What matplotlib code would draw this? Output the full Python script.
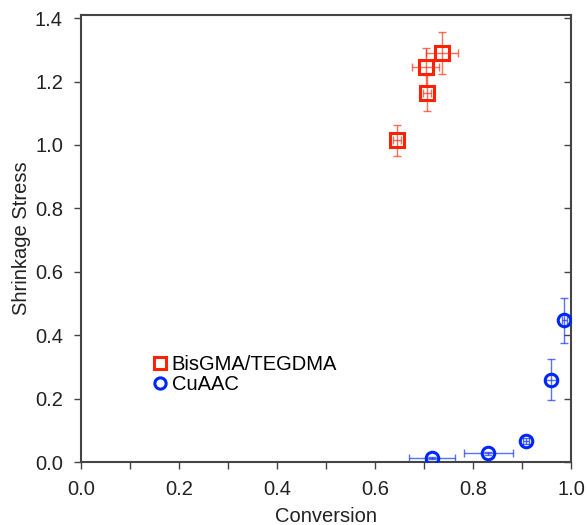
import matplotlib
matplotlib.use("Agg")
import matplotlib.pyplot as plt
import numpy as np

plt.rcParams['font.family'] = ['Liberation Sans', 'DejaVu Sans']

# BisGMA/TEGDMA data
bis_x = [0.645, 0.703, 0.706, 0.737]
bis_y = [1.015, 1.245, 1.165, 1.290]
bis_xerr = [0.008, 0.027, 0.008, 0.033]
bis_yerr = [0.049, 0.060, 0.057, 0.066]

# CuAAC data
cu_x = [0.717, 0.831, 0.907, 0.959, 0.986]
cu_y = [0.012, 0.027, 0.066, 0.259, 0.447]
cu_xerr = [0.047, 0.050, 0.006, 0.012, 0.005]
cu_yerr = [0.004, 0.005, 0.010, 0.065, 0.071]

xticks = [0.0, 0.2, 0.4, 0.6, 0.8, 1.0]
yticks = [0.0, 0.2, 0.4, 0.6, 0.8, 1.0, 1.2, 1.4]

red = '#ff2200'
blue = '#0026ff'

fig = plt.figure(figsize=(5.87, 5.25), dpi=100)
ax = fig.add_axes([0.138, 0.12, 0.835, 0.8514])

ax.errorbar(bis_x, bis_y, xerr=bis_xerr, yerr=bis_yerr, fmt='none',
            ecolor=red, elinewidth=1.0, capsize=3, capthick=1.0, alpha=0.65, zorder=2)
ax.plot(bis_x, bis_y, linestyle='none', marker='s', markersize=9.5,
        markerfacecolor='none', markeredgecolor=red, markeredgewidth=2.2,
        label='BisGMA/TEGDMA', zorder=3)

ax.errorbar(cu_x, cu_y, xerr=cu_xerr, yerr=cu_yerr, fmt='none',
            ecolor=blue, elinewidth=1.0, capsize=3, capthick=1.0, alpha=0.65, zorder=2)
ax.plot(cu_x, cu_y, linestyle='none', marker='o', markersize=9,
        markerfacecolor='none', markeredgecolor=blue, markeredgewidth=2.2,
        label='CuAAC', zorder=3)

ax.set_xlim(0, 1.0)
ax.set_ylim(0, 1.41)
ax.set_xticks(xticks)
ax.set_xticklabels([f'{v:.1f}' for v in xticks])
ax.set_xticks(np.arange(0.1, 1.0, 0.2), minor=True)
ax.set_yticks(yticks)
ax.set_yticklabels([f'{v:.1f}' for v in yticks])

spine_c = '#444444'
for s in ax.spines.values():
    s.set_color(spine_c)
    s.set_linewidth(1.5)

ax.tick_params(axis='both', which='both', direction='out', length=5, width=1.0,
               color=spine_c, labelsize=14.5, labelcolor='#222222', pad=8)
ax.tick_params(axis='x', which='minor', length=5)
ax.tick_params(axis='y', right=True, which='major')
# right ticks inward
for t in ax.yaxis.get_major_ticks():
    t.tick2line.set_marker(matplotlib.lines.TICKLEFT)

ax.set_xlabel('Conversion', fontsize=14.5, color='#222222', labelpad=5.5)
ax.set_ylabel('Shrinkage Stress', fontsize=14.5, color='#222222', labelpad=3)

leg = ax.legend(loc='upper left', bbox_to_anchor=(0.148, 0.24), frameon=False,
                fontsize=14.5, handlelength=0.6, handletextpad=0.3,
                labelspacing=0.05, borderpad=0, borderaxespad=0, markerscale=0.9)

fig.savefig('out.png', dpi=100)
